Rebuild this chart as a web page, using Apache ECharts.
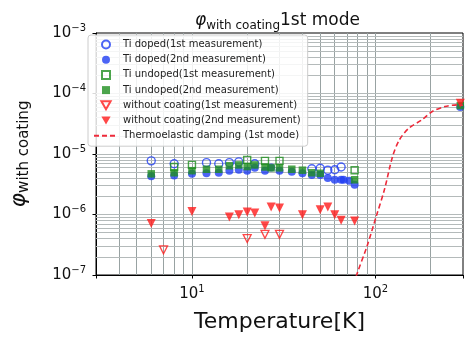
<!DOCTYPE html>
<html>
<head>
<meta charset="utf-8">
<script src="https://cdn.jsdelivr.net/npm/echarts@6/dist/echarts.min.js"></script>
<style>
  html, body { margin: 0; padding: 0; background: #fff; }
  #chart { width: 469px; height: 338px; }
</style>
</head>
<body>
<div id="chart"></div>
<script>
// Ti doped (1st measurement)
const dopedT1 = [6, 8, 12, 14, 16, 18, 22, 45, 50, 55, 60, 65];
const dopedPhi1 = [7.7e-6, 6.9e-6, 7.2e-6, 6.9e-6, 7.2e-6, 7.4e-6, 6.9e-6, 5.7e-6, 5.8e-6, 5.4e-6, 5.5e-6, 6.1e-6];
// Ti doped (2nd measurement)
const dopedT2 = [6, 8, 10, 12, 14, 16, 18, 20, 22, 25, 27, 30, 35, 40, 45, 50, 55, 60, 65, 67, 72, 77, 290];
const dopedPhi2 = [4.3e-6, 4.4e-6, 4.7e-6, 4.8e-6, 4.9e-6, 5.3e-6, 5.5e-6, 5.3e-6, 5.9e-6, 5.3e-6, 6.0e-6, 5.3e-6, 5.1e-6, 4.8e-6, 4.5e-6, 4.5e-6, 4.0e-6, 3.75e-6, 3.75e-6, 3.75e-6, 3.6e-6, 3.1e-6, 6.0e-5];
// Ti undoped (1st measurement)
const undopedT1 = [8, 10, 20, 25, 30, 77];
const undopedPhi1 = [6.1e-6, 6.6e-6, 8.0e-6, 7.7e-6, 7.7e-6, 5.4e-6];
// Ti undoped (2nd measurement)
const undopedT2 = [6, 8, 10, 12, 14, 16, 18, 20, 22, 25, 27, 30, 35, 40, 45, 50, 77, 290];
const undopedPhi2 = [4.7e-6, 4.9e-6, 5.3e-6, 5.6e-6, 5.6e-6, 6.4e-6, 6.6e-6, 6.2e-6, 6.6e-6, 6.1e-6, 5.9e-6, 5.9e-6, 5.6e-6, 5.4e-6, 4.9e-6, 4.8e-6, 3.75e-6, 6.3e-5];
// without coating (1st measurement)
const bareT1 = [7, 20, 25, 30];
const barePhi1 = [2.6e-7, 4.0e-7, 4.7e-7, 4.7e-7];
// without coating (2nd measurement)
const bareT2 = [6, 10, 16, 18, 20, 22, 25, 27, 30, 40, 50, 55, 60, 65, 77, 290];
const barePhi2 = [7.1e-7, 1.12e-6, 9.1e-7, 9.9e-7, 1.1e-6, 1.06e-6, 6.5e-7, 1.33e-6, 1.28e-6, 9.9e-7, 1.2e-6, 1.33e-6, 9.9e-7, 8.0e-7, 7.8e-7, 6.9e-5];
// thermoelastic damping (1st mode)
const tedT = [77, 79, 90, 101, 112, 124, 135, 152, 179, 203, 239, 281, 300];
const tedPhi = [7e-8, 1.0e-7, 3.0e-7, 9.3e-7, 2.6e-6, 9.1e-6, 1.71e-5, 2.67e-5, 3.66e-5, 5.0e-5, 6.08e-5, 6.5e-5, 6.4e-5];

const FONT = 'DejaVu Sans';
const BLUE = '#1f3df2';
const GREEN = '#1f8f1f';
const RED = '#ff1a1a';
const X_MIN = 3, X_MAX = 300, Y_MIN = 1e-7, Y_MAX = 1e-3;

function zip(xs, ys) {
  return xs.map((x, i) => [x, ys[i]]);
}

// grid lines at 1..9 x 10^n, like matplotlib grid(which='both')
const xGridVals = [];
[1, 10, 100].forEach(d => {
  for (let m = 1; m <= 9; m++) {
    const v = m * d;
    if (v > X_MIN && v < X_MAX) xGridVals.push(v);
  }
});
const yGridVals = [];
[1e-7, 1e-6, 1e-5, 1e-4].forEach(d => {
  for (let m = 1; m <= 9; m++) {
    const v = m * d;
    if (v > Y_MIN * 1.01) yGridVals.push(v);
  }
});

function powLabel(v) {
  const lg = Math.log10(v);
  const e = Math.round(lg);
  if (Math.abs(lg - e) > 1e-6) return '';
  return '10{sup|' + (e < 0 ? '\u2212' : '') + Math.abs(e) + '}';
}

const labelRich = {
  sup: { fontSize: 10, lineHeight: 10, verticalAlign: 'top', fontFamily: FONT, color: '#111' }
};

const vLine = { color: '#98a2a2', width: 1, type: 'solid' };
const hLine = { color: '#b4baba', width: 1, type: 'solid' };
const gridLines = xGridVals.map(v => [{ coord: [v, Y_MIN], lineStyle: vLine }, { coord: [v, Y_MAX] }])
  .concat(yGridVals.map(v => [{ coord: [X_MIN, v], lineStyle: hLine }, { coord: [X_MAX, v] }]));

const chart = echarts.init(document.getElementById('chart'));

chart.setOption({
  animation: false,
  textStyle: { fontFamily: FONT },
  title: {
    left: 190,
    top: 5,
    text: '{phi|φ}{sub|with coating}{main|1st mode}',
    textStyle: {
      fontWeight: 'normal',
      rich: {
        phi: { fontSize: 17, fontStyle: 'italic', fontWeight: 'normal', lineHeight: 22, fontFamily: FONT, color: '#111' },
        sub: { fontSize: 12, fontWeight: 'normal', lineHeight: 12, verticalAlign: 'bottom', fontFamily: FONT, color: '#111' },
        main: { fontSize: 17, fontWeight: 'normal', lineHeight: 22, fontFamily: FONT, color: '#111' }
      }
    }
  },
  grid: {
    left: 86, right: 6, top: 33, bottom: 63,
    show: true, borderColor: '#000', borderWidth: 1
  },
  legend: {
    orient: 'vertical',
    left: 88, top: 35,
    padding: [4, 7, 5, 5],
    itemWidth: 24, itemHeight: 8, itemGap: 4.2,
    backgroundColor: 'rgba(255,255,255,0.85)',
    borderColor: '#cccccc', borderWidth: 1, borderRadius: 3,
    textStyle: { fontSize: 10, lineHeight: 11, fontFamily: FONT, color: '#222' },
    data: [
      { name: 'Ti doped(1st measurement)' },
      { name: 'Ti doped(2nd measurement)' },
      { name: 'Ti undoped(1st measurement)', icon: 'path://M0,0L10,0L10,10L0,10Z' },
      { name: 'Ti undoped(2nd measurement)', icon: 'path://M0,0L10,0L10,10L0,10Z' },
      { name: 'without coating(1st measurement)', icon: 'path://M0,0L10,0L5,8.66Z' },
      { name: 'without coating(2nd measurement)', icon: 'path://M0,0L10,0L5,8.66Z' },
      { name: 'Thermoelastic damping (1st mode)', itemStyle: { opacity: 0 } }
    ]
  },
  xAxis: {
    type: 'log', logBase: 10, min: X_MIN, max: X_MAX,
    name: 'Temperature[K]', nameLocation: 'middle', nameGap: 36,
    nameTextStyle: { fontSize: 22, fontFamily: FONT, color: '#111' },
    axisLine: { lineStyle: { color: '#000', width: 1 } },
    axisTick: { inside: false, length: 3.5, lineStyle: { color: '#000' } },
    axisLabel: { margin: 9, fontSize: 15, lineHeight: 20, color: '#111', formatter: powLabel, rich: labelRich },
    splitLine: { show: false }
  },
  yAxis: {
    type: 'log', logBase: 10, min: Y_MIN, max: Y_MAX,
    name: '{phi|φ}{sub|with coating}', nameLocation: 'middle', nameGap: 64, nameRotate: 90,
    nameTextStyle: {
      rich: {
        phi: { fontSize: 22, fontStyle: 'italic', lineHeight: 26, fontFamily: FONT, color: '#111' },
        sub: { fontSize: 15, lineHeight: 15, verticalAlign: 'bottom', fontFamily: FONT, color: '#111' }
      }
    },
    axisLine: { lineStyle: { color: '#000', width: 1 } },
    axisTick: { inside: false, length: 3.5, lineStyle: { color: '#000' } },
    axisLabel: { margin: 10, fontSize: 15, lineHeight: 20, color: '#111', formatter: powLabel, rich: labelRich },
    splitLine: { show: false }
  },
  series: [
    {
      name: 'gridlines',
      type: 'line',
      data: [],
      silent: true,
      z: 1,
      markLine: {
        silent: true,
        z: 1,
        symbol: 'none',
        label: { show: false },
        animation: false,
        data: gridLines
      }
    },
    {
      name: 'Ti doped(1st measurement)',
      type: 'scatter',
      symbol: 'circle', symbolSize: 8,
      itemStyle: { color: 'rgba(255,255,255,0)', borderColor: BLUE, borderWidth: 1.4 },
      data: zip(dopedT1, dopedPhi1)
    },
    {
      name: 'Ti doped(2nd measurement)',
      type: 'scatter',
      symbol: 'circle', symbolSize: 8,
      itemStyle: { color: BLUE },
      data: zip(dopedT2, dopedPhi2)
    },
    {
      name: 'Ti undoped(1st measurement)',
      type: 'scatter',
      symbol: 'rect', symbolSize: 7,
      itemStyle: { color: 'rgba(255,255,255,0)', borderColor: GREEN, borderWidth: 1.4 },
      data: zip(undopedT1, undopedPhi1)
    },
    {
      name: 'Ti undoped(2nd measurement)',
      type: 'scatter',
      symbol: 'rect', symbolSize: 7.5,
      itemStyle: { color: GREEN },
      data: zip(undopedT2, undopedPhi2)
    },
    {
      name: 'without coating(1st measurement)',
      type: 'scatter',
      symbol: 'triangle', symbolSize: 8, symbolRotate: 180,
      itemStyle: { color: 'rgba(255,255,255,0)', borderColor: RED, borderWidth: 1.3 },
      data: zip(bareT1, barePhi1)
    },
    {
      name: 'without coating(2nd measurement)',
      type: 'scatter',
      symbol: 'triangle', symbolSize: 9, symbolRotate: 180,
      itemStyle: { color: RED },
      data: zip(bareT2, barePhi2)
    },
    {
      name: 'Thermoelastic damping (1st mode)',
      type: 'line',
      showSymbol: false, symbol: 'none',
      smooth: 0.3,
      clip: true,
      lineStyle: { color: '#ee2a3a', width: 1.6, type: [5, 3] },
      itemStyle: { color: '#ee2a3a' },
      data: zip(tedT, tedPhi)
    }
  ]
});
</script>
</body>
</html>
